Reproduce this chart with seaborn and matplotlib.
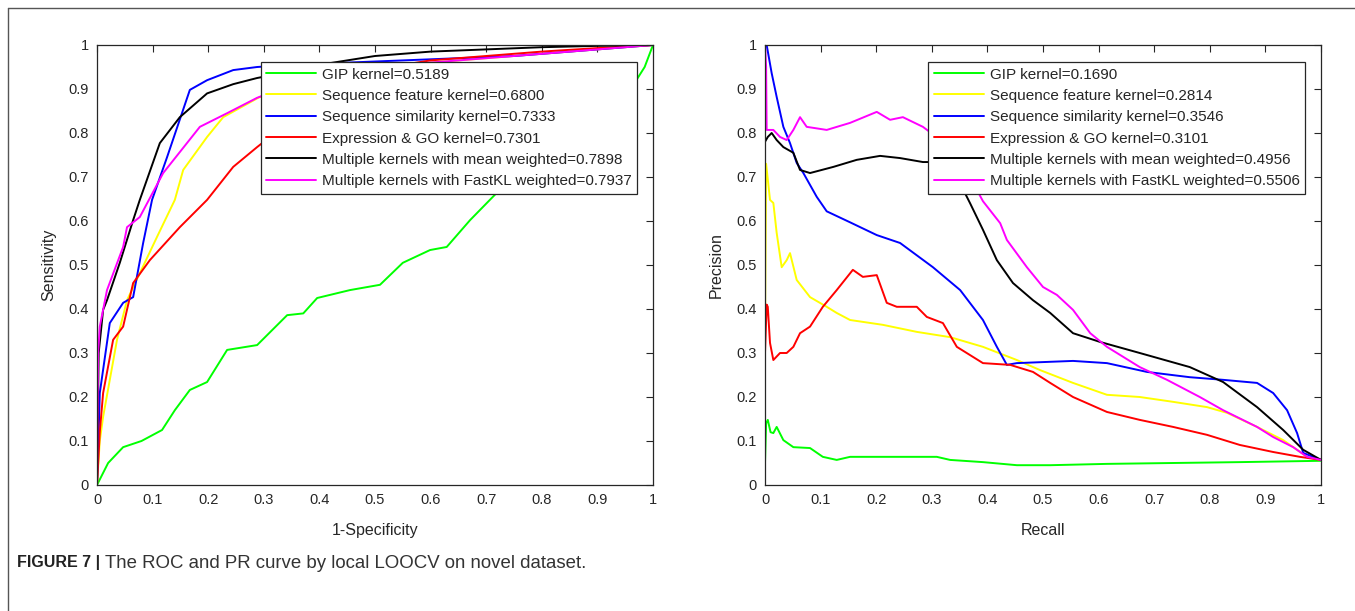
import matplotlib
matplotlib.use("Agg")
import matplotlib.pyplot as plt
from matplotlib.lines import Line2D
from matplotlib.ticker import FormatStrFormatter
import seaborn as sns
import pandas as pd
import numpy as np

# ---------------- data ----------------
series_names = ["GIP kernel", "Sequence feature kernel", "Sequence similarity kernel",
                "Expression & GO kernel", "Multiple kernels with mean weighted",
                "Multiple kernels with FastKL weighted"]
roc_auc = ["0.5189", "0.6800", "0.7333", "0.7301", "0.7898", "0.7937"]
pr_aupr = ["0.1690", "0.2814", "0.3546", "0.3101", "0.4956", "0.5506"]
series_colors = ["#00ff00", "#ffff00", "#0000ff", "#ff0000", "#000000", "#ff00ff"]

# ROC curves: false positive rate / true positive rate
roc_gip_fpr = [0, .02, .047, .08, .117, .14, .167, .198, .234, .288, .342, .371, .396, .455,
               .509, .55, .599, .629, .671, .719, .76, .8, .85, .9, .95, .97, .985, 1]
roc_gip_tpr = [0, .05, .086, .10, .125, .17, .216, .234, .307, .318, .386, .39, .425, .443,
               .455, .505, .534, .541, .602, .664, .72, .77, .82, .86, .90, .92, .95, 1]
roc_seqf_fpr = [0, .005, .011, .036, .054, .108, .14, .155, .198, .227, .29, .35, .45, .55,
                .65, .75, .85, .95, 1]
roc_seqf_tpr = [0, .10, .155, .33, .42, .564, .648, .716, .791, .836, .88, .91, .94, .955,
                .965, .975, .985, .995, 1]
roc_seqs_fpr = [0, .003, .005, .023, .047, .065, .083, .099, .126, .167, .198, .245, .288,
                .35, .45, .55, .65, .75, .85, .95, 1]
roc_seqs_tpr = [0, .12, .209, .368, .414, .427, .55, .648, .745, .898, .92, .943, .95,
                .955, .96, .965, .97, .975, .985, .995, 1]
roc_expr_fpr = [0, .005, .011, .029, .047, .065, .095, .149, .198, .245, .288, .3, .35, .4,
                .45, .5, .6, .7, .8, .9, 1]
roc_expr_tpr = [0, .12, .209, .33, .36, .459, .511, .586, .648, .723, .768, .78, .83, .88,
                .92, .945, .965, .975, .985, .993, 1]
roc_mean_fpr = [0, .003, .011, .018, .041, .065, .077, .113, .149, .198, .245, .288, .35,
                .4, .5, .6, .7, .8, .9, 1]
roc_mean_tpr = [0, .30, .398, .42, .505, .602, .648, .777, .836, .89, .911, .925, .94,
                .955, .975, .985, .99, .995, .998, 1]
roc_fkl_fpr = [0, .002, .005, .018, .047, .054, .077, .119, .185, .234, .288, .35, .45,
               .55, .65, .75, .85, .95, 1]
roc_fkl_tpr = [0, .30, .36, .443, .541, .586, .609, .709, .814, .845, .88, .91, .94,
               .955, .965, .975, .985, .995, 1]

# PR curves: recall / precision
pr_gip_rec = [0, .002, .005, .01, .015, .021, .033, .051, .081, .104, .129, .153, .212,
              .273, .309, .333, .392, .453, .513, .615, .734, .854, 1]
pr_gip_prec = [.05, .14, .148, .12, .118, .132, .102, .086, .084, .064, .057, .064, .064,
               .064, .064, .057, .052, .045, .045, .048, .05, .052, .055]
pr_seqf_rec = [0, .002, .009, .015, .021, .03, .039, .045, .057, .081, .111, .129, .153,
               .212, .273, .333, .392, .453, .495, .554, .615, .674, .734, .795, .831,
               .885, .932, .975, 1]
pr_seqf_prec = [.35, .73, .648, .641, .573, .495, .511, .527, .466, .427, .405, .391, .375,
                .364, .348, .336, .314, .284, .261, .232, .205, .2, .189, .177, .164,
                .132, .102, .064, .057]
pr_seqs_rec = [0, .003, .012, .021, .033, .045, .057, .069, .093, .111, .153, .201, .243,
               .302, .351, .392, .417, .435, .453, .513, .554, .615, .687, .764, .824,
               .885, .914, .939, .957, .968, 1]
pr_seqs_prec = [1.0, 1.0, .936, .882, .814, .777, .732, .709, .655, .622, .597, .568, .55,
                .495, .443, .375, .314, .273, .277, .28, .282, .277, .257, .245, .239,
                .232, .209, .17, .118, .073, .057]
pr_expr_rec = [0, .003, .005, .009, .015, .027, .039, .051, .063, .081, .104, .129, .158,
               .176, .201, .219, .237, .273, .291, .32, .345, .392, .441, .482, .513,
               .554, .615, .674, .734, .795, .854, .914, .962, 1]
pr_expr_prec = [.30, .41, .405, .323, .284, .30, .30, .314, .345, .36, .405, .443, .489,
                .473, .477, .414, .405, .405, .382, .368, .314, .277, .273, .257, .232,
                .2, .166, .148, .132, .114, .091, .075, .064, .057]
pr_mean_rec = [0, .005, .012, .021, .033, .051, .063, .081, .123, .165, .207, .243, .284,
               .32, .345, .369, .392, .417, .446, .482, .513, .554, .603, .674, .764,
               .824, .885, .932, .968, 1]
pr_mean_prec = [.78, .791, .80, .784, .768, .755, .716, .709, .723, .739, .748, .743, .734,
                .734, .70, .640, .58, .511, .459, .42, .391, .345, .325, .30, .268,
                .234, .177, .125, .08, .057]
pr_fkl_rec = [0, .002, .003, .015, .027, .039, .051, .063, .075, .111, .153, .201, .225,
              .248, .284, .32, .36, .392, .423, .435, .471, .5, .525, .554, .585, .615,
              .674, .723, .782, .824, .885, .914, .95, .975, 1]
pr_fkl_prec = [1.0, .95, .807, .807, .791, .784, .807, .836, .814, .807, .823, .848, .83,
               .836, .814, .78, .72, .645, .595, .557, .495, .45, .432, .398, .345, .314,
               .268, .239, .2, .17, .132, .109, .086, .064, .057]

roc_curves = [(roc_gip_fpr, roc_gip_tpr), (roc_seqf_fpr, roc_seqf_tpr),
              (roc_seqs_fpr, roc_seqs_tpr), (roc_expr_fpr, roc_expr_tpr),
              (roc_mean_fpr, roc_mean_tpr), (roc_fkl_fpr, roc_fkl_tpr)]
pr_curves = [(pr_gip_rec, pr_gip_prec), (pr_seqf_rec, pr_seqf_prec),
             (pr_seqs_rec, pr_seqs_prec), (pr_expr_rec, pr_expr_prec),
             (pr_mean_rec, pr_mean_prec), (pr_fkl_rec, pr_fkl_prec)]

# ---------------- style ----------------
sns.set_theme(style="white")
plt.rcParams["font.family"] = ["Liberation Sans", "DejaVu Sans"]
plt.rcParams["axes.edgecolor"] = "#262626"
plt.rcParams["xtick.color"] = "#262626"
plt.rcParams["ytick.color"] = "#262626"

W, H = 1355, 611
fig = plt.figure(figsize=(W / 100, H / 100), dpi=100)
fig.patch.set_facecolor("white")


def panel(left_px, curves, scores, xlabel, ylabel):
    ax = fig.add_axes([left_px / W, (H - 485) / H, 556 / W, 440 / H])
    for (xs, ys), name, score, color in zip(curves, series_names, scores, series_colors):
        df = pd.DataFrame({"x": xs, "y": ys})
        sns.lineplot(data=df, x="x", y="y", ax=ax, color=color, lw=1.4,
                     sort=False, estimator=None, label=f"{name}={score}")
    ax.set_xlim(0, 1)
    ax.set_ylim(0, 1)
    ticks = np.round(np.arange(0, 1.01, 0.1), 1)
    ax.set_xticks(ticks)
    ax.set_yticks(ticks)
    ax.xaxis.set_major_formatter(FormatStrFormatter("%g"))
    ax.yaxis.set_major_formatter(FormatStrFormatter("%g"))
    ax.tick_params(direction="in", length=5, width=0.8, top=True, right=True,
                   labelsize=10.5, labelcolor="#262626", pad=6)
    for s in ax.spines.values():
        s.set_linewidth(0.9)
    ax.set_xlabel(xlabel, fontsize=11.5, color="#262626", labelpad=11)
    ax.set_ylabel(ylabel, fontsize=11.5, color="#262626", labelpad=9)
    leg = ax.legend(loc="upper right", bbox_to_anchor=(0.971, 0.961), borderaxespad=0,
                    fontsize=11, frameon=True, fancybox=False, framealpha=1,
                    edgecolor="#262626", handlelength=3.3, handletextpad=0.35,
                    labelspacing=0.48, borderpad=0.35)
    leg.get_frame().set_linewidth(0.9)
    for t in leg.get_texts():
        t.set_color("#262626")
    return ax


panel(97, roc_curves, roc_auc, "1-Specificity", "Sensitivity")
panel(765, pr_curves, pr_aupr, "Recall", "Precision")

# figure frame (top and left rules)
fig.add_artist(Line2D([8 / W, 1], [1 - 8 / H, 1 - 8 / H], color="#555555", lw=1.0))
fig.add_artist(Line2D([8 / W, 8 / W], [0, 1 - 8 / H], color="#555555", lw=1.0))

# caption: bold label followed by the plain sentence
cap_y = 1 - 563 / H
bold = fig.text(17 / W, cap_y, "FIGURE 7 |", fontsize=11.5, fontweight="bold",
                va="center", color="#222222")
renderer = fig.canvas.get_renderer()
bb = bold.get_window_extent(renderer=renderer)
fig.text((bb.x1 + 5) / W, cap_y, "The ROC and PR curve by local LOOCV on novel dataset.",
         fontsize=13.4, va="center", color="#333333")

fig.savefig("out.png", dpi=100)
